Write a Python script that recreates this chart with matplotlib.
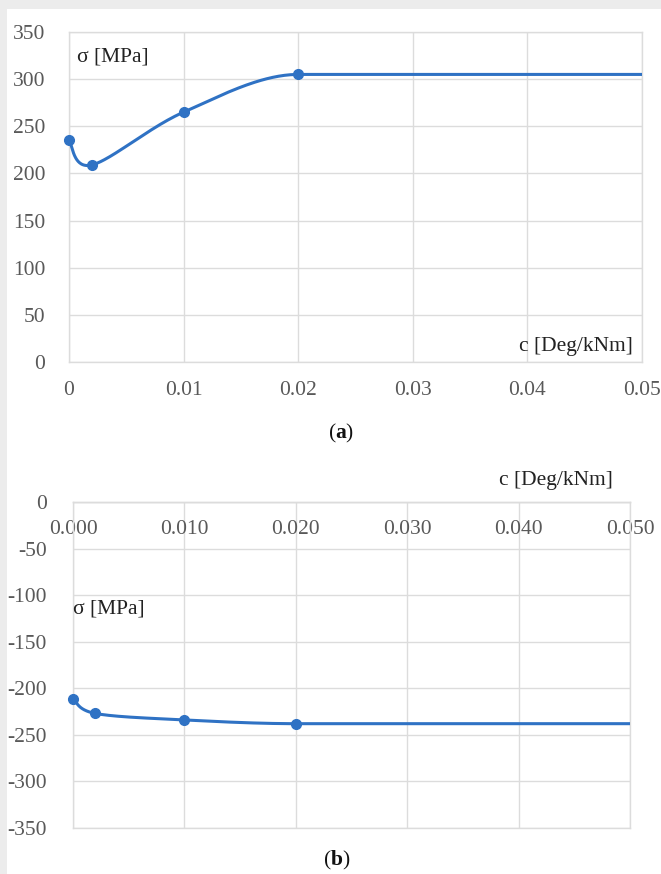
import numpy as np
import matplotlib
matplotlib.use("Agg")
import matplotlib.pyplot as plt
from matplotlib.patches import Rectangle

plt.rcParams['font.family'] = ['Liberation Serif', 'DejaVu Serif']
plt.rcParams['mathtext.fontset'] = 'custom'
plt.rcParams['mathtext.rm'] = 'Liberation Serif'
plt.rcParams['mathtext.bf'] = 'Liberation Serif:bold'
plt.rcParams['axes.unicode_minus'] = False

# ---- data ----
c_a = [0.0, 0.002, 0.01, 0.02]
sigma_a = [235, 209, 265, 305]
c_a_end = 0.05

c_b = [0.0, 0.002, 0.01, 0.02]
sigma_b = [-211, -227, -234, -238]
c_b_end = 0.05

xticks_a = [0, 0.01, 0.02, 0.03, 0.04, 0.05]
xticklabels_a = ["0", "0.01", "0.02", "0.03", "0.04", "0.05"]
yticks_a = [0, 50, 100, 150, 200, 250, 300, 350]

xticks_b = [0, 0.01, 0.02, 0.03, 0.04, 0.05]
xticklabels_b = ["0.000", "0.010", "0.020", "0.030", "0.040", "0.050"]
yticks_b = [0, -50, -100, -150, -200, -250, -300, -350]

LINE = "#2f72c4"
GRID = "#dcdcdc"
TICK = "#595959"
FS = 15.5

W, H = 661, 874


def smooth_curve(xs, ys, n=60):
    """Cubic Bezier smoothing through the points (Catmull-Rom style control
    points), with a flat tangent at the last point."""
    P = np.column_stack([xs, ys]).astype(float)
    m = len(P)
    tang = np.zeros_like(P)
    for i in range(m):
        if i == 0:
            tang[i] = (P[1] - P[0]) / 6.0
        elif i == m - 1:
            tang[i] = np.array([(P[i, 0] - P[i - 1, 0]) / 3.0, 0.0])
        else:
            tang[i] = (P[i + 1] - P[i - 1]) / 6.0
    out = []
    t = np.linspace(0, 1, n)[:, None]
    for i in range(m - 1):
        p0 = P[i]
        p1 = P[i] + tang[i]
        p2 = P[i + 1] - tang[i + 1]
        p3 = P[i + 1]
        seg = ((1 - t) ** 3) * p0 + 3 * ((1 - t) ** 2) * t * p1 \
            + 3 * (1 - t) * t ** 2 * p2 + t ** 3 * p3
        out.append(seg if i == 0 else seg[1:])
    return np.vstack(out)


fig = plt.figure(figsize=(W / 100, H / 100), dpi=100)
fig.patch.set_facecolor("white")

# light grey page border along the top and left edges
fig.patches.append(Rectangle((0, 1 - 9 / H), 1, 9 / H, transform=fig.transFigure,
                             facecolor="#ececec", edgecolor="none", zorder=0))
fig.patches.append(Rectangle((0, 0), 7 / W, 1, transform=fig.transFigure,
                             facecolor="#ececec", edgecolor="none", zorder=0))


def style_axes(ax):
    for s in ax.spines.values():
        s.set_color(GRID)
        s.set_linewidth(1.0)
    ax.grid(True, color=GRID, linewidth=1.0)
    ax.set_axisbelow(True)
    ax.tick_params(length=0, colors=TICK, labelsize=FS)
    for lab in ax.get_xticklabels() + ax.get_yticklabels():
        lab.set_color(TICK)


# ---------- (a) ----------
axa = fig.add_axes([69 / W, 1 - 362 / H, 573 / W, 330 / H])
axa.set_xlim(0, 0.05)
axa.set_ylim(0, 350)
axa.set_xticks(xticks_a)
axa.set_xticklabels(xticklabels_a)
axa.set_yticks(yticks_a)
style_axes(axa)
axa.tick_params(axis="y", pad=17)
axa.tick_params(axis="x", pad=14)

ca = smooth_curve(c_a, sigma_a)
ca = np.vstack([ca, [c_a_end, sigma_a[-1]]])
axa.plot(ca[:, 0], ca[:, 1], color=LINE, lw=2.2, solid_capstyle="butt", clip_on=False, zorder=3)
axa.plot(c_a, sigma_a, "o", color=LINE, ms=7, clip_on=False, zorder=4)

axa.text(77 / W, 1 - 57 / H, "σ [MPa]", transform=fig.transFigure, fontsize=FS,
         color="#222222", ha="left", va="center")
axa.text(633 / W, 1 - 346 / H, "c [Deg/kNm]", transform=fig.transFigure, fontsize=FS,
         color="#222222", ha="right", va="center")
fig.text(341 / W, 1 - 433 / H, r"($\mathbf{a}$)", fontsize=FS, color="#111111",
         ha="center", va="center")

# ---------- (b) ----------
axb = fig.add_axes([73 / W, 1 - 828 / H, 557 / W, 326 / H])
axb.set_xlim(0, 0.05)
axb.set_ylim(-350, 0)
axb.spines["bottom"].set_position(("data", 0))
axb.set_xticks(xticks_b)
axb.set_xticklabels(xticklabels_b)
axb.set_yticks(yticks_b)
style_axes(axb)
axb.tick_params(axis="y", pad=19)
axb.tick_params(axis="x", pad=13)
axb.axhline(-350, color=GRID, lw=1.0, clip_on=False, zorder=0.5)

cb = smooth_curve(c_b, sigma_b)
cb = np.vstack([cb, [c_b_end, sigma_b[-1]]])
axb.plot(cb[:, 0], cb[:, 1], color=LINE, lw=2.2, solid_capstyle="butt", clip_on=False, zorder=3)
axb.plot(c_b, sigma_b, "o", color=LINE, ms=7, clip_on=False, zorder=4)

axb.text(73 / W, 1 - 609 / H, "σ [MPa]", transform=fig.transFigure, fontsize=FS,
         color="#222222", ha="left", va="center")
axb.text(613 / W, 1 - 480 / H, "c [Deg/kNm]", transform=fig.transFigure, fontsize=FS,
         color="#222222", ha="right", va="center")
fig.text(337 / W, 1 - 860 / H, r"($\mathbf{b}$)", fontsize=FS, color="#111111",
         ha="center", va="center")

fig.savefig("out.png", dpi=100, facecolor=fig.get_facecolor())
